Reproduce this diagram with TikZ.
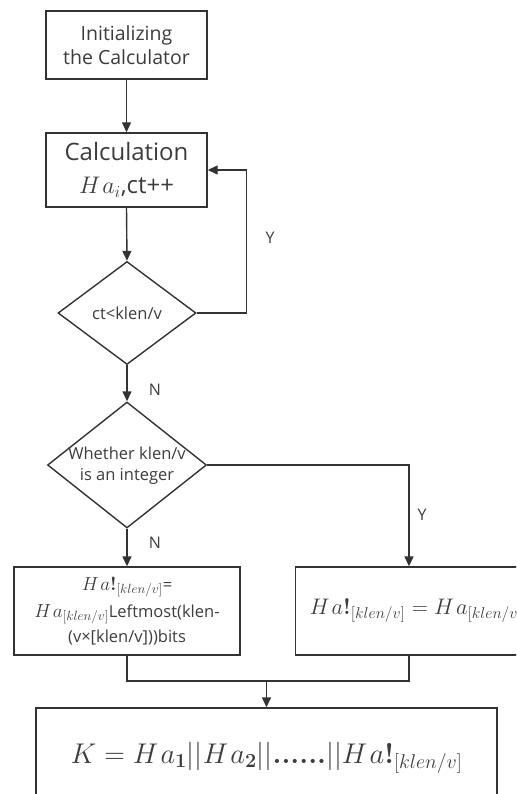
\RequirePackage{fix-cm}
\documentclass[tikz,border=0pt]{standalone}
\usepackage[no-math]{fontspec}
\setmainfont{Open Sans}
\usetikzlibrary{arrows.meta,shapes.geometric}
\definecolor{lnc}{HTML}{333333}
\definecolor{txc}{HTML}{3C3C3C}
\newcommand\cmbold[1]{\mathord{\hbox{\fontencoding{OT1}\fontfamily{cmr}\fontseries{bx}\fontshape{n}\selectfont #1}}}
\newcommand\Ha{H\mkern1.5mu a}
\begin{document}
\begin{tikzpicture}[x=1pt,y=-1pt,
  box/.style={draw=lnc,line width=1.4pt,inner sep=0pt,align=center,text=txc},
  dia/.style={draw=lnc,line width=1.4pt,diamond,inner sep=0pt},
  wire/.style={draw=lnc,line width=1.4pt},
  arr/.style={draw=lnc,line width=1.4pt,-{Triangle[length=10pt,width=9pt]}},
  lab/.style={text=txc,font=\fontsize{16}{19}\selectfont,inner sep=0pt}]
\useasboundingbox (0,0) rectangle (516,794);
\clip (0,0) rectangle (516,794);

\node[box,minimum width=161pt,minimum height=68pt,font=\fontsize{19.5}{24}\selectfont] (b1) at (126.5,45)
  {Initializing\\the Calculator};
\node[box,minimum width=161pt,minimum height=74pt,font=\fontsize{24}{33}\selectfont] (b2) at (126.5,170)
  {Calculation\\$\Ha_i$,ct++};
\node[dia,minimum width=138pt,minimum height=103pt] (d1) at (127,313) {};
\node[lab,font=\fontsize{16.5}{20}\selectfont] (t1) at (127,313) {ct<klen/v};
\node[dia,minimum width=159pt,minimum height=126pt] (d2) at (127,465) {};
\node[lab,align=center,font=\fontsize{16.5}{21}\selectfont] (t2) at (127,466) {Whether klen/v\\is an integer};
\node[box,minimum width=226pt,minimum height=88pt,font=\fontsize{16.5}{25}\selectfont] (lb) at (127,611)
  {\fontsize{19}{25}\selectfont$\Ha\cmbold{!}_{[klen/v]}$\fontsize{16.5}{25}\selectfont=\\[2pt]\fontsize{19}{25}\selectfont$\Ha_{[klen/v]}$\fontsize{16.5}{25}\selectfont Leftmost(klen-\\(v×[klen/v]))bits};
\node[box,minimum width=226pt,minimum height=88pt,font=\fontsize{22.5}{26}\selectfont] (rb) at (409,611)
  {\hspace*{14pt}$\Ha\cmbold{!}_{[klen/v]} = \Ha_{[klen/v]}$};
\node[box,minimum width=461pt,minimum height=100pt,font=\fontsize{28.5}{30}\selectfont] (bb) at (266.5,758)
  {$K = \Ha_{\mathbf{1}}||\Ha_{\mathbf{2}}||\cmbold{......}||\Ha\cmbold{!}_{[klen/v]}$};

\node[lab] (ly1) at (270,238) {Y};
\node[lab] (ln1) at (155,390) {N};
\node[lab] (ln2) at (155,543) {N};
\node[lab] (ly2) at (422,515) {Y};

\draw[arr] (b1.south) -- (b2.north);
\draw[arr] (b2.south) -- (d1.north);
\draw[arr] (d1.east) -| ([xshift=39pt]b2.east) -- (b2.east);
\draw[arr] (d1.south) -- (d2.north);
\draw[arr] (d2.south) -- (lb.north);
\draw[arr] (d2.east) -| (rb.north);
\coordinate (mj) at (266.5,681);
\draw[wire] (lb.south) |- (mj) -| (rb.south);
\draw[arr] (mj) -- (bb.north);
\end{tikzpicture}
\end{document}
